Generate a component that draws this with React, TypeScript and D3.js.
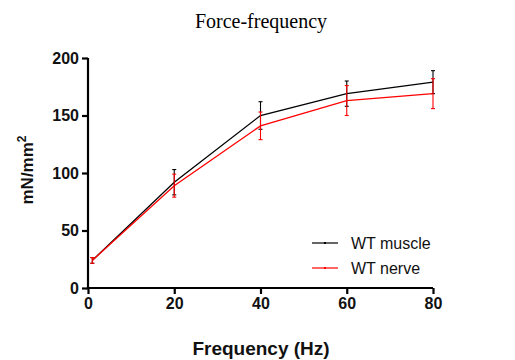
import { useEffect, useRef } from 'react';
import * as d3 from 'd3';

const frequencies = [1, 20, 40, 60, 80];
const muscleMean = [24, 92, 150, 169, 179];
const muscleErr = [2.5, 11, 12, 11, 10];
const nerveMean = [24, 89, 141, 163, 169];
const nerveErr = [2.5, 10, 12, 13, 13];
const xTicks = [0, 20, 40, 60, 80];
const yTicks = [0, 50, 100, 150, 200];

const series = [
  { name: 'WT muscle', color: '#000000', mean: muscleMean, err: muscleErr },
  { name: 'WT nerve', color: '#ff0000', mean: nerveMean, err: nerveErr },
];

export default function App() {
  const ref = useRef<SVGSVGElement>(null);

  useEffect(() => {
    if (!ref.current) return;
    const svg = d3.select(ref.current);
    svg.selectAll('*').remove();

    const width = 515;
    const height = 360;
    const margin = { left: 88, right: 82, top: 58, bottom: 72 };

    const x = d3.scaleLinear().domain([0, 80]).range([margin.left, width - margin.right]);
    const y = d3.scaleLinear().domain([0, 200]).range([height - margin.bottom, margin.top]);

    // title
    svg.append('text')
      .attr('x', 261).attr('y', 28)
      .attr('text-anchor', 'middle')
      .attr('font-family', 'Liberation Serif, Times New Roman, serif')
      .attr('font-size', 20)
      .text('Force-frequency');

    // axes
    const xAxis = svg.append('g')
      .attr('transform', `translate(0,${y(0)})`)
      .call(d3.axisBottom(x).tickValues(xTicks).tickSize(6).tickSizeOuter(0).tickPadding(4));
    const yAxis = svg.append('g')
      .attr('transform', `translate(${x(0)},0)`)
      .call(d3.axisLeft(y).tickValues(yTicks).tickSize(6).tickSizeOuter(0).tickPadding(3));
    [xAxis, yAxis].forEach(a => {
      a.select('.domain').attr('stroke-width', 2.2);
      a.selectAll('.tick line').attr('stroke-width', 2.2);
      a.selectAll('.tick text')
        .attr('font-family', 'Liberation Sans, Arial, sans-serif')
        .attr('font-weight', 'bold')
        .attr('font-size', 16)
        .attr('fill', '#111');
    });
    yAxis.select('.domain').attr('d', `M0,${y(200)}V${y(0)}`);
    xAxis.select('.domain').attr('d', `M0,0H${x(80) - x(0)}`).attr('transform', `translate(${x(0)},0)`);

    // axis titles
    svg.append('text')
      .attr('transform', `translate(33,${y(100) - 3}) rotate(-90)`)
      .attr('text-anchor', 'middle')
      .attr('font-family', 'Liberation Sans, Arial, sans-serif')
      .attr('font-weight', 'bold')
      .attr('font-size', 17)
      .attr('fill', '#111')
      .html('mN/mm<tspan dy="-7" font-size="12">2</tspan>');
    svg.append('text')
      .attr('x', 261).attr('y', 355)
      .attr('text-anchor', 'middle')
      .attr('font-family', 'Liberation Sans, Arial, sans-serif')
      .attr('font-weight', 'bold')
      .attr('font-size', 19)
      .attr('fill', '#111')
      .text('Frequency (Hz)');

    const line = d3.line<number>()
      .x((_, i) => x(frequencies[i]))
      .y(d => y(d));

    series.forEach(s => {
      const g = svg.append('g');
      g.append('path')
        .attr('d', line(s.mean))
        .attr('fill', 'none')
        .attr('stroke', s.color)
        .attr('stroke-width', 1.3);
      s.mean.forEach((m, i) => {
        const cx = x(frequencies[i]);
        const top = y(m + s.err[i]);
        const bot = y(m - s.err[i]);
        g.append('line').attr('x1', cx).attr('x2', cx).attr('y1', top).attr('y2', bot)
          .attr('stroke', s.color).attr('stroke-width', 1.1);
        [top, bot].forEach(v => {
          g.append('line').attr('x1', cx - 2).attr('x2', cx + 2).attr('y1', v).attr('y2', v)
            .attr('stroke', s.color).attr('stroke-width', 1.1);
        });
      });
    });

    // legend
    const legend = svg.append('g');
    series.forEach((s, i) => {
      const ly = 243 + i * 25;
      legend.append('line').attr('x1', 312).attr('x2', 338).attr('y1', ly).attr('y2', ly)
        .attr('stroke', s.color).attr('stroke-width', 1.2);
      legend.append('rect').attr('x', 324).attr('y', ly - 1).attr('width', 2).attr('height', 2)
        .attr('fill', s.color);
      legend.append('text')
        .attr('x', 351).attr('y', ly + 6)
        .attr('font-family', 'Liberation Sans, Arial, sans-serif')
        .attr('font-size', 16)
        .attr('fill', '#111')
        .text(s.name);
    });
  }, []);

  return (
    <svg ref={ref} width={515} height={360}
      style={{ position: 'absolute', left: 0, top: 0, background: '#fff' }} />
  );
}
